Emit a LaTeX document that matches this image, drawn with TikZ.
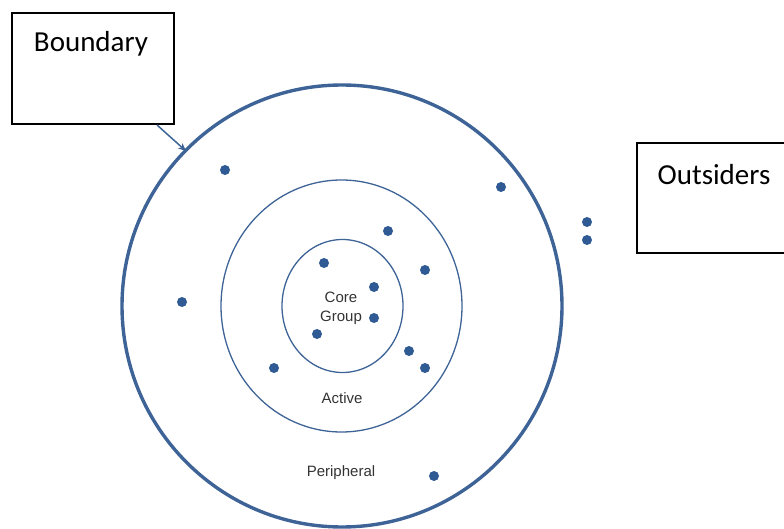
\documentclass[tikz,border=0pt]{standalone}
\usepackage{fontspec}
\setmainfont{Carlito}
\newfontfamily\labelfont{Liberation Sans}
\usetikzlibrary{arrows.meta}
\definecolor{ringblue}{HTML}{3E6396}
\definecolor{dotblue}{HTML}{2F5A94}
\definecolor{labelgray}{HTML}{333333}
\tikzset{
  ring/.style={draw=ringblue, line width=1.3pt},
  outerring/.style={draw=ringblue, line width=3.4pt},
  member/.style={circle, fill=dotblue, inner sep=0pt, minimum size=10pt},
  callout/.style={draw=black, line width=1.4pt, fill=white},
  zonelabel/.style={font=\labelfont\fontsize{15}{16}\selectfont, text=labelgray, inner sep=0pt},
  calloutlabel/.style={font=\fontsize{29}{32}\selectfont, inner sep=0pt}
}
\begin{document}
\begin{tikzpicture}[x=1pt, y=-1pt]
  \useasboundingbox (0,0) rectangle (784,529);

  % nested community rings
  \draw[outerring] (342,306) circle [x radius=220, y radius=221];
  \draw[ring] (341.5,306) ellipse [x radius=120.5, y radius=126];
  \draw[ring] (342.5,306) ellipse [x radius=60.5, y radius=66.5];

  % zone labels
  \node[zonelabel] (core) at (341,297) {Core};
  \node[zonelabel] (group) at (341,318) {Group};
  \node[zonelabel] (active) at (342,398) {Active};
  \node[zonelabel] (peri) at (341,473) {Peripheral};

  % members
  \foreach \n/\p in {m1/{(225,170)}, m2/{(501,187)}, m3/{(388,231)}, m4/{(324,263)},
                     m5/{(425,270)}, m6/{(374,287)}, m7/{(374,318)}, m8/{(317,334)},
                     m9/{(182,302)}, m10/{(409,351)}, m11/{(425,368)}, m12/{(274,368)},
                     m13/{(434,476)}, m14/{(587,222)}, m15/{(587,240)}}
    \node[member] (\n) at \p {};

  % callout boxes
  \draw[callout] (12,13) rectangle (174,124);
  \node[calloutlabel] (boundary) at (91,44) {Boundary};

  \draw[callout] (637,143) rectangle (800,253);
  \node[calloutlabel] (outsiders) at (714,175) {Outsiders};

  % pointer from the boundary label to the outer ring
  \coordinate (tail) at (157,125);
  \coordinate (tip) at (186,151);
  \draw[ringblue, line width=1.5pt, -{Stealth[length=8pt, width=7pt]}] (tail) -- (tip);
\end{tikzpicture}
\end{document}
